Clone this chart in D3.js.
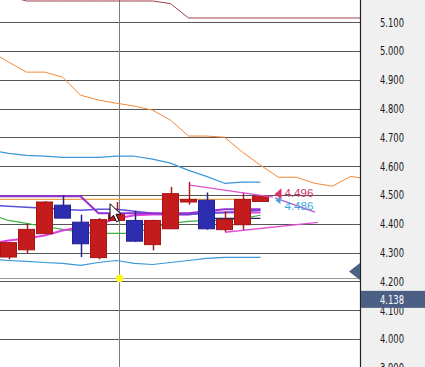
<!DOCTYPE html>
<html>
<head>
<meta charset="utf-8">
<script src="https://cdn.jsdelivr.net/npm/d3@7"></script>
<style>
  body { margin: 0; background: #fff; }
  svg { display: block; }
</style>
</head>
<body>
<svg id="chart" width="425" height="367"></svg>
<script>
// candles, index 0..14
const candleOpen  = [4.285, 4.310, 4.366, 4.465, 4.406, 4.283, 4.412, 4.412, 4.328, 4.383, 4.476, 4.482, 4.380, 4.397, 4.478];
const candleHigh  = [4.335, 4.401, 4.479, 4.499, 4.432, 4.420, 4.476, 4.445, 4.414, 4.528, 4.546, 4.509, 4.444, 4.509, 4.498];
const candleLow   = [4.277, 4.297, 4.366, 4.420, 4.285, 4.277, 4.410, 4.337, 4.308, 4.383, 4.467, 4.380, 4.372, 4.378, 4.476];
const candleClose = [4.335, 4.381, 4.476, 4.420, 4.331, 4.415, 4.432, 4.340, 4.412, 4.505, 4.485, 4.383, 4.415, 4.485, 4.496];

// indicator lines, first value is index -1
const spanB   = [5.212, 5.191, 5.174, 5.174, 5.174, 5.174, 5.174, 5.174, 5.174, 5.174, 5.165,
                 5.115, 5.115, 5.115, 5.115, 5.115, 5.115, 5.115, 5.115, 5.115, 5.115, 5.115];
const spanA   = [5.000, 4.962, 4.927, 4.927, 4.910, 4.847, 4.830, 4.819, 4.809, 4.795, 4.760,
                 4.705, 4.705, 4.701, 4.649, 4.604, 4.562, 4.562, 4.541, 4.531, 4.565, 4.555];
const bbUpper = [4.656, 4.645, 4.638, 4.635, 4.631, 4.631, 4.631, 4.635, 4.635, 4.625, 4.611, 4.586, 4.565, 4.541, 4.545, 4.545];
const bbMid   = [4.433, 4.412, 4.402, 4.391, 4.381, 4.371, 4.367, 4.367, 4.367, 4.388, 4.402, 4.409, 4.412, 4.412, 4.419, 4.430];
const bbLower = [4.277, 4.273, 4.270, 4.266, 4.263, 4.256, 4.266, 4.273, 4.263, 4.259, 4.266, 4.273, 4.280, 4.284, 4.284, 4.284];
const kijun   = [4.496, 4.496, 4.496, 4.496, 4.496, 4.496, 4.437, 4.437, 4.437, 4.437, 4.437, 4.437, 4.444, 4.451, 4.451, 4.451];
const tenkan  = [4.465, 4.461, 4.458, 4.454, 4.451, 4.447, 4.451, 4.451, 4.444, 4.437, 4.433, 4.433, 4.437, 4.440, 4.444, 4.447];
const maLine  = [4.332, 4.342, 4.349, 4.360, 4.377, 4.388, 4.398, 4.419, 4.430, 4.433, 4.433, 4.433, 4.440, 4.440, 4.440, 4.440];
const navyLine = [4.419, 4.419, 4.419, 4.419]; // index 11..14

const levelLine = 4.485;
const trendUpper = [[10.08, 4.535], [14.69, 4.493]];
const trendUpper2 = [[14.80, 4.490], [17.03, 4.441]];
const trendLower = [[12.03, 4.371], [17.19, 4.405]];

const priceTicks = [3.9, 4.0, 4.1, 4.2, 4.3, 4.4, 4.5, 4.6, 4.7, 4.8, 4.9, 5.0, 5.1];
const lastPrice = 4.496;
const otherPrice = 4.486;
const currentPrice = 4.138;
const markerPrice = 4.235;
const crossIndex = 6.14;
const crossPrice = 4.211;

const plotW = 360, W = 425, H = 367;
const axisFont = "'Liberation Sans Narrow', 'DejaVu Sans Condensed', sans-serif";
const svg = d3.select("#chart");

const x = d3.scaleLinear().domain([0, 14]).range([8.5, 260.5]);
const y = d3.scaleLinear().domain([4.0, 5.1]).range([339.1, 22.3]);
const fmt = d3.format(".3f");

svg.append("defs").append("clipPath").attr("id", "plot")
  .append("rect").attr("width", plotW).attr("height", H);

// axis panel
svg.append("rect").attr("x", plotW).attr("y", 0).attr("width", W - plotW).attr("height", H).attr("fill", "#f0f0f0");

const plot = svg.append("g").attr("clip-path", "url(#plot)");

// gridlines
plot.selectAll("line.grid").data(priceTicks).enter().append("line")
  .attr("class", "grid")
  .attr("x1", 0).attr("x2", plotW)
  .attr("y1", d => Math.round(y(d)) + 0.5).attr("y2", d => Math.round(y(d)) + 0.5)
  .attr("stroke", "#555").attr("stroke-width", 1);

// crosshair
plot.append("line")
  .attr("x1", Math.round(x(crossIndex)) + 0.5).attr("x2", Math.round(x(crossIndex)) + 0.5)
  .attr("y1", 0).attr("y2", H).attr("stroke", "#7a7a7a");
plot.append("line")
  .attr("x1", 0).attr("x2", plotW)
  .attr("y1", Math.round(y(crossPrice)) + 0.5).attr("y2", Math.round(y(crossPrice)) + 0.5)
  .attr("stroke", "#9a9a9a");

const toPts = (arr, start) => arr.map((v, k) => [start + k, v]);
const line = d3.line().x(d => x(d[0])).y(d => y(d[1]));

function drawLine(pts, color, width) {
  plot.append("path").datum(pts)
    .attr("d", line)
    .attr("fill", "none")
    .attr("stroke", color)
    .attr("stroke-width", width)
    .attr("stroke-linejoin", "round");
}

drawLine(toPts(spanB, -1), "#a0404e", 1);
drawLine(toPts(spanA, -1), "#f0883a", 1);
drawLine(toPts(bbUpper, -1), "#3a98d8", 1.2);
drawLine(toPts(bbLower, -1), "#3a98d8", 1.2);

// orange level
plot.append("line")
  .attr("x1", 0).attr("x2", x(14))
  .attr("y1", y(levelLine)).attr("y2", y(levelLine))
  .attr("stroke", "#e8a448").attr("stroke-width", 1.2);

drawLine(toPts(bbMid, -1), "#3cb043", 1.2);
drawLine(toPts(maLine, -1), "#e040e0", 2);
drawLine(toPts(tenkan, -1), "#5a4fd8", 1.5);
drawLine(toPts(kijun, -1), "#9430d0", 2);
drawLine(toPts(navyLine, 11), "#23235f", 1.2);

// candles
const candles = candleOpen.map((o, i) => ({
  i, o, h: candleHigh[i], l: candleLow[i], c: candleClose[i]
}));
const up = d => d.c >= d.o;

const cg = plot.selectAll("g.candle").data(candles).enter().append("g").attr("class", "candle");
cg.append("line")
  .attr("x1", d => Math.round(x(d.i)) + 0.5).attr("x2", d => Math.round(x(d.i)) + 0.5)
  .attr("y1", d => y(d.h)).attr("y2", d => y(d.l))
  .attr("stroke", d => up(d) ? "#b01818" : "#23238a").attr("stroke-width", 1.5);
cg.append("rect")
  .attr("x", d => x(d.i) - 8).attr("width", 16)
  .attr("y", d => y(Math.max(d.o, d.c)))
  .attr("height", d => Math.max(2, Math.abs(y(d.o) - y(d.c))))
  .attr("fill", d => up(d) ? "#c41c1c" : "#2d2db0")
  .attr("stroke", d => up(d) ? "#a81414" : "#222290").attr("stroke-width", 1);

// trendlines
[trendUpper, trendLower].forEach(t => drawLine(t, "#e050d0", 1.3));
drawLine(trendUpper2, "#b25ad8", 1.3);

// price labels
const lx = x(14) + 14;
svg.append("path")
  .attr("d", `M${lx},${y(lastPrice) - 2} l7,-6 v11 z`)
  .attr("fill", "#e0306a");
svg.append("path")
  .attr("d", `M${lx + 1},${y(otherPrice) + 1} l5,-3 v7 z`)
  .attr("fill", "#3aa8d8");
svg.append("text").attr("x", lx + 10).attr("y", y(lastPrice) + 1)
  .attr("font-family", "Liberation Sans, Arial, sans-serif").attr("font-size", 11.5)
  .attr("fill", "#c8306a").text(fmt(lastPrice));
svg.append("text").attr("x", lx + 10).attr("y", y(otherPrice) + 11)
  .attr("font-family", "Liberation Sans, Arial, sans-serif").attr("font-size", 11.5)
  .attr("fill", "#3aa8d8").text(fmt(otherPrice));

// yellow dot at crosshair
svg.append("circle")
  .attr("cx", x(crossIndex) + 0.5).attr("cy", y(crossPrice))
  .attr("r", 3.5).attr("fill", "#ffff00").attr("stroke", "#f6f060").attr("stroke-width", 1);

// mouse cursor
svg.append("path")
  .attr("transform", `translate(${x(crossIndex) - 9},${y(4.47)})`)
  .attr("d", "M0,0 L0,15 L3.5,11.5 L6.5,18 L9,17 L6,10.5 L11,10.5 Z")
  .attr("fill", "#fff").attr("stroke", "#000").attr("stroke-width", 1);

// axis border
svg.append("line").attr("x1", plotW + 0.5).attr("x2", plotW + 0.5)
  .attr("y1", 0).attr("y2", H).attr("stroke", "#222").attr("stroke-width", 1.2);

// price axis
const axis = d3.axisRight(y).tickValues(priceTicks).tickSize(0).tickPadding(19).tickFormat(fmt);
const ag = svg.append("g").attr("transform", `translate(${plotW + 1},0)`).call(axis);
ag.select(".domain").remove();
ag.selectAll("text")
  .attr("font-family", axisFont)
  .attr("font-size", 12).attr("fill", "#1a1a1a")
  .attr("textLength", 24).attr("lengthAdjust", "spacingAndGlyphs");

// marker triangle at axis
svg.append("path")
  .attr("d", `M${plotW - 11},${y(markerPrice)} L${plotW},${y(markerPrice) - 8.5} L${plotW},${y(markerPrice) + 8.5} Z`)
  .attr("fill", "#4d6285");

// current price box
svg.append("rect").attr("x", plotW + 1).attr("y", y(currentPrice) - 8.5)
  .attr("width", W - plotW - 1).attr("height", 17).attr("fill", "#4b5f85");
svg.append("text").attr("x", plotW + 20).attr("y", y(currentPrice) + 4.5)
  .attr("font-family", axisFont)
  .attr("font-size", 12).attr("fill", "#fff")
  .attr("textLength", 24).attr("lengthAdjust", "spacingAndGlyphs")
  .text(fmt(currentPrice));
</script>
</body>
</html>
